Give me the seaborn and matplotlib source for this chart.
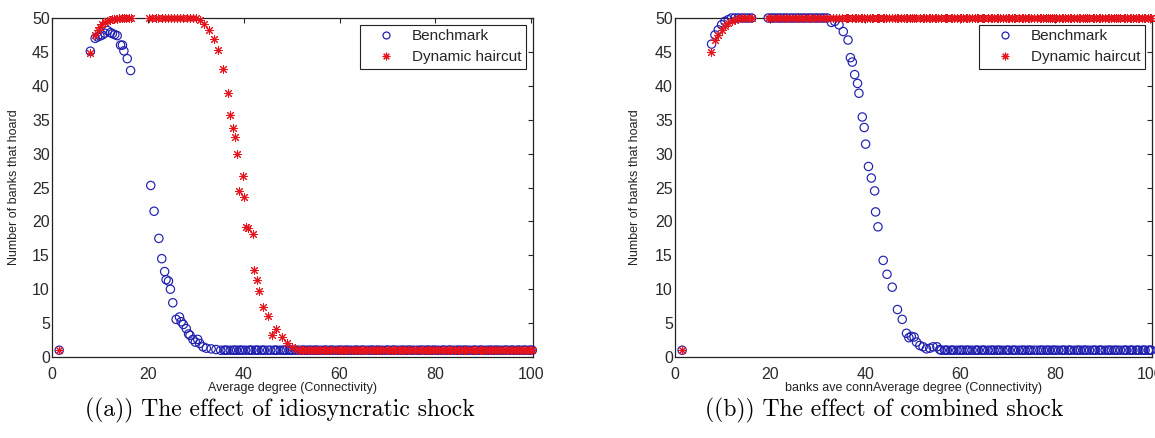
import matplotlib
matplotlib.use("Agg")
import matplotlib.pyplot as plt
from matplotlib.lines import Line2D
import seaborn as sns
import pandas as pd

# ---------------- data ----------------
# dense grid of average-degree values where the curves sit on a plateau / floor
DEGREE_GRID = [19.6, 20.3, 20.9, 21.6, 22.2, 22.9, 23.5, 24.2, 24.8, 25.5, 26.1, 26.8, 27.4, 28.1,
               28.7, 29.4, 30.0, 30.7, 31.3, 32.0, 32.6, 33.3, 33.9, 34.6, 35.2, 35.9, 36.5, 37.2,
               37.8, 38.5, 39.1, 39.8, 40.4, 41.1, 41.7, 42.4, 43.0, 43.7, 44.3, 45.0, 45.6, 46.3,
               46.9, 47.6, 48.2, 48.9, 49.5, 50.2, 50.8, 51.5, 52.1, 52.8, 53.4, 54.1, 54.7, 55.4,
               56.0, 56.7, 57.3, 58.0, 58.6, 59.3, 59.9, 60.6, 61.2, 61.9, 62.5, 63.2, 63.8, 64.5,
               65.1, 65.8, 66.4, 67.1, 67.7, 68.4, 69.0, 69.7, 70.3, 71.0, 71.6, 72.3, 72.9, 73.6,
               74.2, 74.9, 75.5, 76.2, 76.8, 77.5, 78.1, 78.8, 79.4, 80.1, 80.7, 81.4, 82.0, 82.7,
               83.3, 84.0, 84.6, 85.3, 85.9, 86.6, 87.2, 87.9, 88.5, 89.2, 89.8, 90.5, 91.1, 91.8,
               92.4, 93.1, 93.7, 94.4, 95.0, 95.7, 96.3, 97.0, 97.6, 98.3, 98.9, 99.6, 100.2]
# extra measured points interleaved in the dense floor band
DEGREE_GRID_FINE = [36.2, 38.1, 39.4, 41.4, 42.7, 44.0, 46.6, 48.5, 49.8, 52.4, 53.7, 55.0,
                    57.0, 58.3, 60.2, 61.5, 63.5, 64.8, 66.7, 68.0, 70.0, 71.3, 73.2, 74.5,
                    77.1, 78.4, 79.7, 81.7, 83.0, 84.9, 86.2, 88.2, 89.5, 91.4, 92.7, 94.7,
                    96.0, 97.3, 98.6, 99.9]

# (a) idiosyncratic shock - Benchmark
A_BENCH_X = [1.5, 8.0, 9.0, 9.5, 10.0, 10.5, 11.0, 11.6, 12.2, 12.6, 13.1, 13.6, 14.3, 14.7,
             15.0, 15.7, 16.4, 20.6, 21.3, 22.3, 22.9, 23.5, 23.8, 24.3, 24.7, 25.2, 25.9, 26.6,
             26.95, 27.4, 28.0, 28.5, 28.8, 29.4, 29.9, 30.4, 30.8, 31.5, 32.2, 33.2, 34.2]
A_BENCH_Y = [1.0, 45.1, 47.0, 47.2, 47.35, 47.5, 47.75, 48.15, 47.85, 47.7, 47.55, 47.4, 46.0,
             46.0, 45.15, 44.0, 42.25, 25.3, 21.5, 17.5, 14.5, 12.6, 11.4, 11.2, 10.0, 8.0, 5.55,
             5.9, 5.2, 4.8, 4.2, 3.4, 3.2, 2.6, 2.2, 2.6, 2.0, 1.5, 1.3, 1.2, 1.1]
A_BENCH_FLOOR = (35.0, 1.0)          # from this degree on the curve stays at ~1

# (a) idiosyncratic shock - Dynamic haircut
A_HAIR_X = [1.5, 8.0, 9.0, 9.5, 10.0, 10.5, 11.0, 11.5, 12.0, 12.5, 13.0, 13.5, 14.0, 14.5,
            15.0, 15.5, 16.0, 16.5, 30.8, 31.8, 32.7, 33.9, 34.6, 35.6, 36.7, 37.2, 37.7, 38.1,
            38.7, 39.1, 39.8, 40.0, 40.5, 40.8, 41.9, 42.2, 42.7, 43.2, 44.1, 45.0, 46.0, 46.8,
            48.0, 49.1, 50.0, 51.2]
A_HAIR_Y = [1.0, 44.8, 47.5, 48.2, 48.7, 49.1, 49.4, 49.6, 49.7, 49.8, 49.9, 49.9, 50.0, 50.0,
            50.0, 50.0, 50.0, 50.0, 49.65, 49.15, 48.25, 46.85, 45.35, 42.5, 38.9, 35.75, 33.75,
            32.4, 29.9, 24.5, 26.75, 23.6, 19.2, 19.0, 18.2, 12.9, 11.4, 9.7, 7.4, 6.1, 3.3, 4.15,
            2.9, 2.0, 1.5, 1.2]
A_HAIR_PLATEAU = (20.0, 30.5, 50.0)  # degree range where all banks hoard
A_HAIR_FLOOR = (51.5, 1.0)

# (b) combined shock - Benchmark
B_BENCH_X = [1.5, 7.7, 8.4, 9.1, 9.8, 10.5, 11.2, 11.9, 12.6, 13.3, 14.0, 14.7, 15.4, 16.1,
             32.9, 33.6, 34.5, 35.4, 36.4, 36.9, 37.3, 37.8, 38.4, 38.7, 39.4, 39.8, 40.1, 40.7,
             41.3, 42.0, 42.2, 42.7, 43.8, 44.6, 45.7, 46.8, 47.8, 48.7, 49.2, 49.7, 50.3, 50.8,
             51.5, 52.2, 52.9, 53.6, 54.3, 55.1, 55.7]
B_BENCH_Y = [1.0, 46.15, 47.5, 48.25, 49.0, 49.5, 49.75, 50.0, 50.0, 50.0, 50.0, 50.0, 50.0, 50.0,
             49.35, 49.5, 49.0, 48.0, 46.75, 44.15, 43.5, 41.65, 40.35, 38.9, 35.4, 33.85, 31.4,
             28.1, 26.4, 24.5, 21.4, 19.2, 14.25, 12.2, 10.3, 7.0, 5.55, 3.5, 2.85, 3.05, 2.95,
             2.2, 1.7, 1.5, 1.2, 1.3, 1.5, 1.5, 1.1]
B_BENCH_PLATEAU = (19.6, 32.2, 50.0)
B_BENCH_FLOOR = (56.0, 1.0)

# (b) combined shock - Dynamic haircut
B_HAIR_X = [1.5, 7.6, 8.4, 9.1, 9.8, 10.5, 11.2, 11.9, 12.6, 13.3, 14.0, 14.7, 15.4, 16.1]
B_HAIR_Y = [1.0, 45.0, 46.75, 47.5, 48.25, 48.85, 49.25, 49.5, 49.75, 50.0, 50.0, 50.0, 50.0, 50.0]
B_HAIR_PLATEAU = (19.6, 100.2, 50.0)

SERIES_NAMES = ["Benchmark", "Dynamic haircut"]
X_LABELS = ["Average degree (Connectivity)", "banks ave connAverage degree (Connectivity)"]
Y_LABEL = "Number of banks that hoard"
CAPTIONS = ["((a)) The effect of idiosyncratic shock", "((b)) The effect of combined shock"]
X_TICKS = [0, 20, 40, 60, 80, 100]
Y_TICKS = [0, 5, 10, 15, 20, 25, 30, 35, 40, 45, 50]


def with_floor(xs, ys, floor=None, plateau=None):
    xs, ys = list(xs), list(ys)
    if plateau is not None:
        lo, hi, val = plateau
        g = [d for d in DEGREE_GRID + DEGREE_GRID_FINE if lo <= d <= hi]
        xs += g
        ys += [val] * len(g)
    if floor is not None:
        lo, val = floor
        g = [d for d in DEGREE_GRID + DEGREE_GRID_FINE if d >= lo]
        xs += g
        ys += [val] * len(g)
    return pd.DataFrame({"degree": xs, "banks": ys})


panels = [
    (with_floor(A_BENCH_X, A_BENCH_Y, floor=A_BENCH_FLOOR),
     with_floor(A_HAIR_X, A_HAIR_Y, floor=A_HAIR_FLOOR, plateau=A_HAIR_PLATEAU)),
    (with_floor(B_BENCH_X, B_BENCH_Y, floor=B_BENCH_FLOOR, plateau=B_BENCH_PLATEAU),
     with_floor(B_HAIR_X, B_HAIR_Y, plateau=B_HAIR_PLATEAU)),
]

# ---------------- style ----------------
sns.set_theme(style="white")
plt.rcParams["font.family"] = ["Liberation Sans", "DejaVu Sans"]

BLUE = "#1f1fb0"
RED = "#e3141c"
STAR = (8, 2, 0)

fig = plt.figure(figsize=(11.55, 4.38), dpi=100)
fig.patch.set_facecolor("white")

W, H = 1155, 438
boxes = [(52, 533), (675, 1152)]
ylab_x = [-0.0655, -0.0723]

for i, ((bench, hair), (l, r)) in enumerate(zip(panels, boxes)):
    ax = fig.add_axes([l / W, (H - 357) / H, (r - l) / W, (357 - 18) / H])
    ax.set_facecolor("white")
    sns.scatterplot(data=bench, x="degree", y="banks", ax=ax, marker="o", s=36,
                    fc="none", ec=BLUE, linewidth=0.85, clip_on=False, zorder=3)
    sns.scatterplot(data=hair, x="degree", y="banks", ax=ax, marker=STAR, s=34,
                    color=RED, linewidth=0.75, clip_on=False, zorder=4)
    ax.set_xlim(0, 100.35)
    ax.set_ylim(0, 50)
    ax.set_xticks(X_TICKS)
    ax.set_yticks(Y_TICKS)
    ax.tick_params(axis="both", which="both", direction="in", length=3.6, width=0.8,
                   top=True, right=True, labelsize=11.5, colors="#2a2a2a")
    ax.tick_params(axis="x", pad=7)
    ax.tick_params(axis="y", pad=1.5)
    for sp in ax.spines.values():
        sp.set_visible(True)
        sp.set_color("#222222")
        sp.set_linewidth(0.9)
    ax.set_xlabel(X_LABELS[i], fontsize=9, color="#222222")
    ax.set_ylabel(Y_LABEL, fontsize=9, color="#222222")
    ax.xaxis.set_label_coords(0.5, -0.0737)
    ax.yaxis.set_label_coords(ylab_x[i], 0.5)

    handles = [Line2D([], [], ls="", marker="o", mfc="none", mec=BLUE, ms=5, mew=0.9),
               Line2D([], [], ls="", marker=STAR, color=RED, ms=5.5, mew=0.8)]
    leg = ax.legend(handles, SERIES_NAMES, loc="upper right", fontsize=11, frameon=True,
                    fancybox=False, framealpha=1, edgecolor="#222222", handlelength=2.8,
                    handletextpad=0.3, borderpad=0.3, labelspacing=0.45, borderaxespad=0.45)
    leg.get_frame().set_linewidth(0.8)

fig.text(280 / W, 1 - 410 / H, CAPTIONS[0], ha="center", va="center", fontsize=17,
         family="cmr10", color="black")
fig.text(884 / W, 1 - 410 / H, CAPTIONS[1], ha="center", va="center", fontsize=17,
         family="cmr10", color="black")

fig.savefig("out.png", dpi=100, facecolor="white")
